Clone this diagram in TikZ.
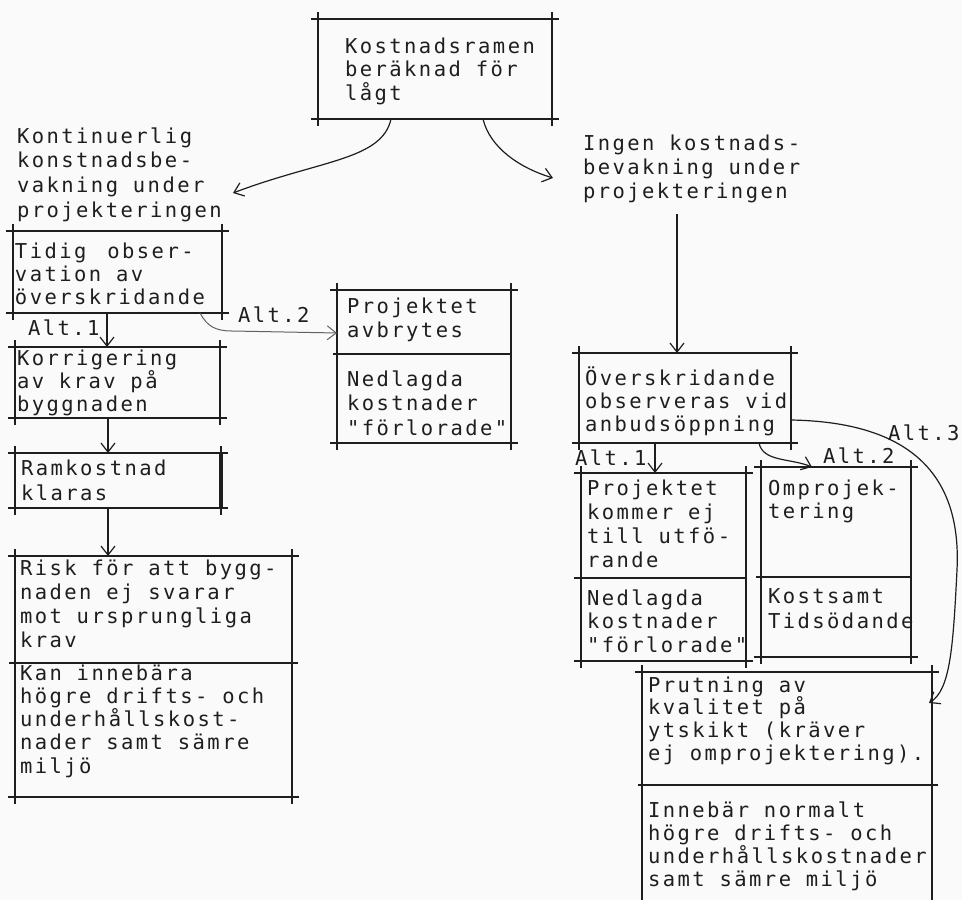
\documentclass[tikz,border=0pt]{standalone}
\usepackage{fontspec}
\newfontfamily\tw[LetterSpace=12]{DejaVu Sans Mono}
\usetikzlibrary{calc,arrows.meta}
\definecolor{ink}{RGB}{30,30,30}
\definecolor{paper}{RGB}{250,250,250}
\newcommand\fs{\rule{0pt}{19.5pt}}
\newcommand\frm[2][]{%
  \draw[fl,#1] ($(#2.north west)+(-7,0)$) -- ($(#2.north east)+(7,0)$);
  \draw[fl,#1] ($(#2.south west)+(-7,0)$) -- ($(#2.south east)+(7,0)$);
  \draw[fl,#1] ($(#2.north west)+(0,-7)$) -- ($(#2.south west)+(0,7)$);
  \draw[fl,#1] ($(#2.north east)+(0,-7)$) -- ($(#2.south east)+(0,7)$);
}
\begin{document}
\begin{tikzpicture}[x=1pt,y=-1pt,
  txt/.style={anchor=north west, inner sep=0pt, outer sep=0pt, align=left,
     yshift=19.5pt, text=ink, font=\tw\fontsize{20.5}{#1}\selectfont},
  txt/.default=23.5,
  boxn/.style={anchor=north west, inner sep=0pt, outer sep=0pt, draw=none},
  fl/.style={draw=ink, line width=1.5pt},
  arr/.style={draw=ink, line width=1.2pt, -{Straight Barb[length=9pt,width=14pt]}},
]
\fill[paper] (0,0) rectangle (962,900);
\useasboundingbox (0,0) rectangle (962,900);

% boxes
\node[boxn, minimum width=234pt, minimum height=100pt] (top) at (318,19) {};
\node[boxn, minimum width=209pt, minimum height=82pt] (tid) at (13,231) {};
\node[boxn, minimum width=205pt, minimum height=71pt] (kor) at (15,347) {};
\node[boxn, minimum width=206pt, minimum height=55pt] (ram) at (15,453) {};
\node[boxn, minimum width=277pt, minimum height=241pt] (risk) at (15,556) {};
\node[boxn, minimum width=174pt, minimum height=153pt] (avb) at (337,290) {};
\node[boxn, minimum width=212pt, minimum height=90pt] (over) at (579,353) {};
\node[boxn, minimum width=165pt, minimum height=188pt] (pkej) at (581,473) {};
\node[boxn, minimum width=150pt, minimum height=190pt] (omp) at (761,467) {};
\node[boxn, minimum width=290pt, minimum height=228pt] (prut) at (642,672) {};

\frm{top}
\frm{tid}
\frm{kor}
\frm{ram}
\frm{risk}
\frm{avb}
\frm{over}
\frm{pkej}
\frm{omp}
% open box (no bottom line)
\draw[fl] ($(prut.north west)+(-7,0)$) -- ($(prut.north east)+(7,0)$);
\draw[fl] ($(prut.north west)+(0,-7)$) -- (prut.south west);
\draw[fl] ($(prut.north east)+(0,-7)$) -- (prut.south east);

% heavier right borders
\draw[ink, line width=2.2pt] (kor.north east) -- (kor.south east);
\draw[ink, line width=3.2pt] (ram.north east) -- (ram.south east);
\draw[ink, line width=2.2pt] (risk.north east) -- (risk.south east);

% dividers
\draw[fl] ($(risk.north west)+(-6,107)$) -- ($(risk.north east)+(6,107)$);
\draw[fl] ($(avb.north west)+(-4,64)$) -- ($(avb.north east)+(0,64)$);
\draw[fl] ($(pkej.north west)+(-7,105)$) -- ($(pkej.north east)+(0,105)$);
\draw[fl] ($(omp.north west)+(-5,110)$) -- ($(omp.north east)+(0,110)$);
\draw[fl] ($(prut.north west)+(-4,113)$) -- ($(prut.north east)+(6,113)$);

% texts
\node[txt=23.5] (topt) at (345,53) {\fs Kostnadsramen\\beräknad för\\lågt};
\node[txt=24.7] (kont) at (17,143) {\fs Kontinuerlig\\konstnadsbe-\\vakning under\\projekteringen};
\node[txt=23] (tidt) at (15,258) {\fs Tidig\hspace{6pt} obser-\\vation av\\överskridande};
\node[txt] (alta) at (28,335) {\fs Alt.1};
\node[txt=23] (kort) at (17,365) {\fs Korrigering\\av krav på\\byggnaden};
\node[txt=25] (ramt) at (21,475) {\fs Ramkostnad\\klaras};
\node[txt=24] (riskt) at (20,575) {\fs Risk för att bygg-\\naden ej svarar\\mot ursprungliga\\krav};
\node[txt=23.3] (kant) at (20,680) {\fs Kan innebära\\högre drifts- och\\underhållskost-\\nader samt sämre\\miljö};
\node[txt] (altb) at (238,322) {\fs Alt.2};
\node[txt=24] (avbt) at (347,313) {\fs Projektet\\avbrytes};
\node[txt=24.5] (nedt) at (347,386) {\fs Nedlagda\\kostnader\\"förlorade"};
\node[txt=24] (ingt) at (583,150) {\fs Ingen kostnads-\\bevakning under\\projekteringen};
\node[txt=23] (overt) at (585,385) {\fs Överskridande\\observeras vid\\anbudsöppning};
\node[txt] (altc) at (575,465) {\fs Alt.1};
\node[txt] (altd) at (823,463) {\fs Alt.2};
\node[txt] (alte) at (888,440) {\fs Alt.3};
\node[txt=24.3] (pkejt) at (587,495) {\fs Projektet\\kommer ej\\till utfö-\\rande};
\node[txt=23.5] (ned2t) at (587,605) {\fs Nedlagda\\kostnader\\"förlorade"};
\node[txt=23] (ompt) at (768,495) {\fs Omprojek-\\tering};
\node[txt=25] (kostt) at (768,603) {\fs Kostsamt\\Tidsödande};
\node[txt=22.7] (prutt) at (648,692) {\fs Prutning av\\kvalitet på\\ytskikt (kräver\\ej omprojektering).};
\node[txt=23.3] (innt) at (648,817) {\fs Innebär normalt\\högre drifts- och\\underhållskostnader\\samt sämre miljö};

% connector ends
\coordinate (kontarr) at (233,193);
\coordinate (ingarr) at (553,178);
\coordinate (ingbot) at (677,214);

% connectors
\draw[arr] ($(top.south west)+(73,0)$) .. controls (382,160) and (320,160) .. (kontarr);
\draw[arr] ($(top.south west)+(165,0)$) .. controls (490,148) and (520,168) .. (ingarr);
\draw[arr] (ingbot) -- (ingbot |- over.north);
\draw[arr] ($(tid.south west)+(94,0)$) -- ($(kor.north west)+(92,0)$);
\draw[arr] ($(kor.south west)+(93,0)$) -- ($(ram.north west)+(93,0)$);
\draw[arr] ($(ram.south west)+(93,0)$) -- ($(risk.north west)+(93,0)$);
\draw[arr, draw=ink!70, line width=1pt] ($(tid.south west)+(187,0)$) .. controls (207,326) and (215,331) .. (232,331) -- ($(avb.north west)+(0,43)$);
\draw[arr] ($(over.south west)+(76,0)$) -- ($(pkej.north west)+(74,0)$);
\draw[arr] ($(over.south west)+(180,0)$) .. controls (763,462) and (790,458) .. ($(omp.north west)+(51,0)$);
\draw[arr] ($(over.north east)+(0,67)$) .. controls (905,422) and (962,470) .. (957,570)
   .. controls (953,650) and (950,690) .. ($(prut.north east)+(-3,31)$);
\end{tikzpicture}
\end{document}
